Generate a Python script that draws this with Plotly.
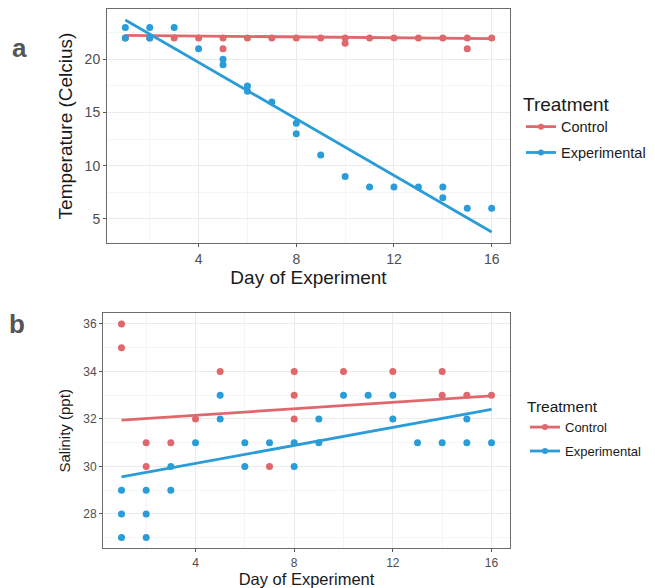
import plotly.graph_objects as go
from plotly.subplots import make_subplots

# ---- data: panel a (temperature) ----
ctrl_a_day = [1, 2, 3, 4, 5, 5, 6, 7, 8, 9, 10, 10, 11, 12, 13, 14, 15, 15, 16]
ctrl_a_temp = [22, 22, 22, 22, 22, 21, 22, 22, 22, 22, 22, 21.5, 22, 22, 22, 22, 22, 21, 22]
exp_a_day = [1, 1, 2, 2, 3, 4, 5, 5, 6, 6, 7, 8, 8, 9, 10, 11, 12, 13, 14, 14, 15, 16]
exp_a_temp = [23, 22, 23, 22, 23, 21, 20, 19.5, 17.5, 17, 16, 14, 13, 11, 9, 8, 8, 8, 8, 7, 6, 6]

# ---- data: panel b (salinity) ----
ctrl_b_day = [1, 1, 2, 2, 3, 4, 5, 7, 8, 8, 8, 10, 12, 14, 14, 15, 16]
ctrl_b_sal = [36, 35, 31, 30, 31, 32, 34, 30, 34, 33, 32, 34, 34, 34, 33, 33, 33]
exp_b_day = [1, 1, 1, 2, 2, 2, 3, 3, 4, 5, 5, 6, 6, 7, 8, 8, 9, 9, 10, 11, 12, 12, 13, 14, 15, 15, 16]
exp_b_sal = [29, 28, 27, 29, 28, 27, 30, 29, 31, 33, 32, 31, 30, 31, 31, 30, 32, 31, 33, 33, 33, 32, 31, 31, 32, 31, 31]

# ---- fitted lines ----
fit_days = [1, 16]
fit_a_ctrl = [22.25, 21.95]
fit_a_exp = [23.7, 3.78]
fit_b_ctrl = [31.95, 32.97]
fit_b_exp = [29.56, 32.4]

x_ticks = [4, 8, 12, 16]
a_yticks = [5, 10, 15, 20]
b_yticks = [28, 30, 32, 34, 36]

RED = "#E0676C"
BLUE = "#2A9DD8"
FONT = "Liberation Sans, Arial, sans-serif"
TXT = "#1a1a1a"
TICK = "#4D4D4D"

# page body has an 8px margin: figure is placed at (8, 8)
OFF = 8
W, H = 655 - OFF, 588 - OFF


def px(x):
    return (x - OFF) / W


def py(y):
    return 1 - (y - OFF) / H


fig = make_subplots(rows=2, cols=1)


def add_panel(row, cd, cv, ed, ev, fc, fe, legend, msize):
    fig.add_trace(go.Scatter(x=cd, y=cv, mode="markers", marker=dict(color=RED, size=msize),
                             showlegend=False, hoverinfo="skip"), row=row, col=1)
    fig.add_trace(go.Scatter(x=fit_days, y=fc, mode="lines", line=dict(color=RED, width=2.8),
                             showlegend=False), row=row, col=1)
    fig.add_trace(go.Scatter(x=ed, y=ev, mode="markers", marker=dict(color=BLUE, size=msize),
                             showlegend=False), row=row, col=1)
    fig.add_trace(go.Scatter(x=fit_days, y=fe, mode="lines", line=dict(color=BLUE, width=2.8),
                             showlegend=False), row=row, col=1)
    fig.add_trace(go.Scatter(x=[None], y=[None], mode="lines+markers", name="Control",
                             line=dict(color=RED, width=2.8), marker=dict(color=RED, size=msize - 1),
                             legend=legend, legendgroup=legend + "c"), row=row, col=1)
    fig.add_trace(go.Scatter(x=[None], y=[None], mode="lines+markers", name="Experimental",
                             line=dict(color=BLUE, width=2.8), marker=dict(color=BLUE, size=msize - 1),
                             legend=legend, legendgroup=legend + "e"), row=row, col=1)


add_panel(1, ctrl_a_day, ctrl_a_temp, exp_a_day, exp_a_temp, fit_a_ctrl, fit_a_exp, "legend", 7)
add_panel(2, ctrl_b_day, ctrl_b_sal, exp_b_day, exp_b_sal, fit_b_ctrl, fit_b_exp, "legend2", 7)

common_axis = dict(showline=True, mirror=True, linecolor="#6b6b6b", linewidth=1,
                   showgrid=True, gridcolor="#EBEBEB", gridwidth=1, zeroline=False,
                   ticks="outside", ticklen=3, tickcolor="#555", tickwidth=1)

fig.update_xaxes(range=[0.25, 16.75], tickvals=x_ticks,
                 minor=dict(dtick=2, tick0=0, showgrid=True, gridcolor="#F5F5F5", ticks=""),
                 **common_axis)
fig.update_xaxes(domain=[px(107), px(510)], row=1, col=1,
                 tickfont=dict(family=FONT, size=14, color=TICK),
                 title=dict(text="Day of Experiment", font=dict(family=FONT, size=19, color=TXT), standoff=2))
fig.update_xaxes(domain=[px(103), px(510)], row=2, col=1,
                 tickfont=dict(family=FONT, size=12, color=TICK),
                 title=dict(text="Day of Experiment", font=dict(family=FONT, size=16.5, color=TXT), standoff=0))

fig.update_yaxes(row=1, col=1, domain=[py(243), py(9)], range=[2.74, 24.73], tickvals=a_yticks,
                 minor=dict(dtick=2.5, tick0=0, showgrid=True, gridcolor="#F5F5F5", ticks=""),
                 tickfont=dict(family=FONT, size=14, color=TICK),
                 title=dict(text="Temperature (Celcius)", font=dict(family=FONT, size=19, color=TXT), standoff=6),
                 **common_axis)
fig.update_yaxes(row=2, col=1, domain=[py(548.3), py(313.3)], range=[26.55, 36.45], tickvals=b_yticks,
                 minor=dict(dtick=1, tick0=0, showgrid=True, gridcolor="#F5F5F5", ticks=""),
                 tickfont=dict(family=FONT, size=12, color=TICK),
                 title=dict(text="Salinity (ppt)", font=dict(family=FONT, size=15, color=TXT), standoff=8),
                 **common_axis)

fig.update_layout(
    width=W, height=H,
    margin=dict(l=0, r=0, t=0, b=0),
    paper_bgcolor="white", plot_bgcolor="white",
    font=dict(family=FONT),
    legend=dict(x=px(521), y=py(86), xanchor="left", yanchor="top",
                title=dict(text="Treatment", font=dict(family=FONT, size=19, color=TXT)),
                font=dict(family=FONT, size=14.5, color=TXT),
                tracegroupgap=4, itemwidth=30, bgcolor="rgba(0,0,0,0)"),
    legend2=dict(x=px(525), y=py(392), xanchor="left", yanchor="top",
                 title=dict(text="Treatment", font=dict(family=FONT, size=15.5, color=TXT)),
                 font=dict(family=FONT, size=13, color=TXT),
                 tracegroupgap=4, itemwidth=30, bgcolor="rgba(0,0,0,0)"),
    annotations=[
        dict(text="<b>a</b>", x=px(19), y=py(48), xref="paper", yref="paper", showarrow=False,
             xanchor="center", yanchor="middle",
             font=dict(family=FONT, size=26, color="#555555")),
        dict(text="<b>b</b>", x=px(17), y=py(324), xref="paper", yref="paper", showarrow=False,
             xanchor="center", yanchor="middle",
             font=dict(family=FONT, size=26, color="#555555")),
    ],
)

fig.write_html("out.html")
